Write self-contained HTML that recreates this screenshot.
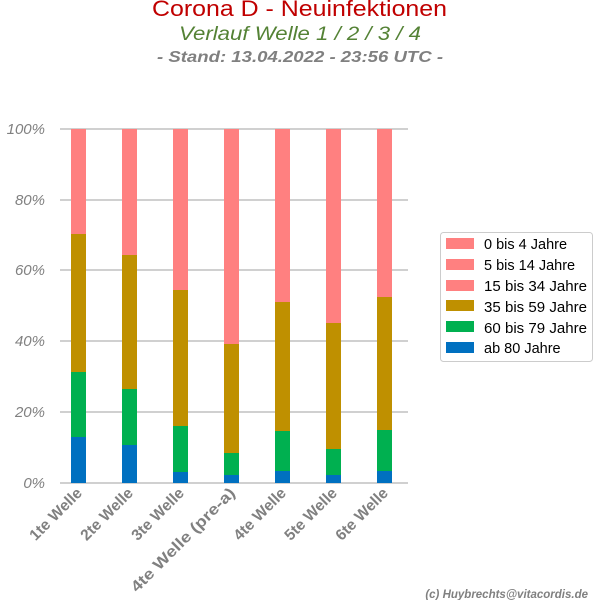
<!DOCTYPE html>
<html><head><meta charset="utf-8"><style>body{margin:0;background:#fff}svg{display:block}</style></head><body>
<svg width="600" height="600" xmlns="http://www.w3.org/2000/svg" font-family="Liberation Sans, sans-serif">
<rect width="600" height="600" fill="#fff"/>
<text x="152" y="16" font-size="22" fill="#c00000" textLength="295" lengthAdjust="spacingAndGlyphs">Corona D - Neuinfektionen</text>
<text x="179" y="40" font-size="19" font-style="italic" fill="#548235" textLength="242" lengthAdjust="spacingAndGlyphs">Verlauf Welle 1 / 2 / 3 / 4</text>
<text x="157" y="62" font-size="16" font-style="italic" font-weight="bold" fill="#808080" textLength="286" lengthAdjust="spacingAndGlyphs">- Stand: 13.04.2022 - 23:56 UTC -</text>
<g stroke="#d0d0d0" stroke-width="2">
<line x1="60" x2="408" y1="129" y2="129"/><line x1="60" x2="408" y1="200" y2="200"/><line x1="60" x2="408" y1="270" y2="270"/><line x1="60" x2="408" y1="341" y2="341"/><line x1="60" x2="408" y1="412" y2="412"/><line x1="60" x2="408" y1="483" y2="483"/>
</g>
<g font-size="15" font-style="italic" fill="#808080" text-anchor="end">
<text x="45" y="134">100%</text><text x="45" y="205">80%</text><text x="45" y="275">60%</text><text x="45" y="346">40%</text><text x="45" y="417">20%</text><text x="45" y="488">0%</text>
</g>
<g>
<rect x="71" y="129" width="15" height="105" fill="#ff8080"/><rect x="71" y="234" width="15" height="138" fill="#bf9000"/><rect x="71" y="372" width="15" height="65" fill="#00b050"/><rect x="71" y="437" width="15" height="46" fill="#0070c0"/>
<rect x="122" y="129" width="15" height="126" fill="#ff8080"/><rect x="122" y="255" width="15" height="134" fill="#bf9000"/><rect x="122" y="389" width="15" height="56" fill="#00b050"/><rect x="122" y="445" width="15" height="38" fill="#0070c0"/>
<rect x="173" y="129" width="15" height="161" fill="#ff8080"/><rect x="173" y="290" width="15" height="136" fill="#bf9000"/><rect x="173" y="426" width="15" height="46" fill="#00b050"/><rect x="173" y="472" width="15" height="11" fill="#0070c0"/>
<rect x="224" y="129" width="15" height="215" fill="#ff8080"/><rect x="224" y="344" width="15" height="109" fill="#bf9000"/><rect x="224" y="453" width="15" height="22" fill="#00b050"/><rect x="224" y="475" width="15" height="8" fill="#0070c0"/>
<rect x="275" y="129" width="15" height="173" fill="#ff8080"/><rect x="275" y="302" width="15" height="129" fill="#bf9000"/><rect x="275" y="431" width="15" height="40" fill="#00b050"/><rect x="275" y="471" width="15" height="12" fill="#0070c0"/>
<rect x="326" y="129" width="15" height="194" fill="#ff8080"/><rect x="326" y="323" width="15" height="126" fill="#bf9000"/><rect x="326" y="449" width="15" height="26" fill="#00b050"/><rect x="326" y="475" width="15" height="8" fill="#0070c0"/>
<rect x="377" y="129" width="15" height="168" fill="#ff8080"/><rect x="377" y="297" width="15" height="133" fill="#bf9000"/><rect x="377" y="430" width="15" height="41" fill="#00b050"/><rect x="377" y="471" width="15" height="12" fill="#0070c0"/>
</g>
<g font-size="15.5" font-weight="bold" fill="#808080" text-anchor="end">
<text transform="translate(83,494) rotate(-45)">1te Welle</text>
<text transform="translate(134,494) rotate(-45)">2te Welle</text>
<text transform="translate(185,494) rotate(-45)">3te Welle</text>
<text transform="translate(236,494) rotate(-45)" textLength="140" lengthAdjust="spacingAndGlyphs">4te Welle (pre-a)</text>
<text transform="translate(287,494) rotate(-45)">4te Welle</text>
<text transform="translate(338,494) rotate(-45)">5te Welle</text>
<text transform="translate(389,494) rotate(-45)">6te Welle</text>
</g>
<rect x="440.5" y="232.5" width="152" height="129" rx="3" fill="#fff" stroke="#ccc"/>
<g font-size="14.5" fill="#000">
<rect x="446" y="238" width="28" height="11" fill="#ff8080"/><text x="484" y="249">0 bis 4 Jahre</text>
<rect x="446" y="259" width="28" height="11" fill="#ff8080"/><text x="484" y="270">5 bis 14 Jahre</text>
<rect x="446" y="280" width="28" height="11" fill="#ff8080"/><text x="484" y="291" textLength="103" lengthAdjust="spacingAndGlyphs">15 bis 34 Jahre</text>
<rect x="446" y="300" width="28" height="11" fill="#bf9000"/><text x="484" y="312" textLength="103" lengthAdjust="spacingAndGlyphs">35 bis 59 Jahre</text>
<rect x="446" y="321" width="28" height="11" fill="#00b050"/><text x="484" y="333" textLength="103" lengthAdjust="spacingAndGlyphs">60 bis 79 Jahre</text>
<rect x="446" y="342" width="28" height="11" fill="#0070c0"/><text x="484" y="353">ab 80 Jahre</text>
</g>
<text x="588" y="598" text-anchor="end" font-size="11.5" font-style="italic" font-weight="bold" fill="#808080">(c) Huybrechts@vitacordis.de</text>
</svg>
</body></html>
